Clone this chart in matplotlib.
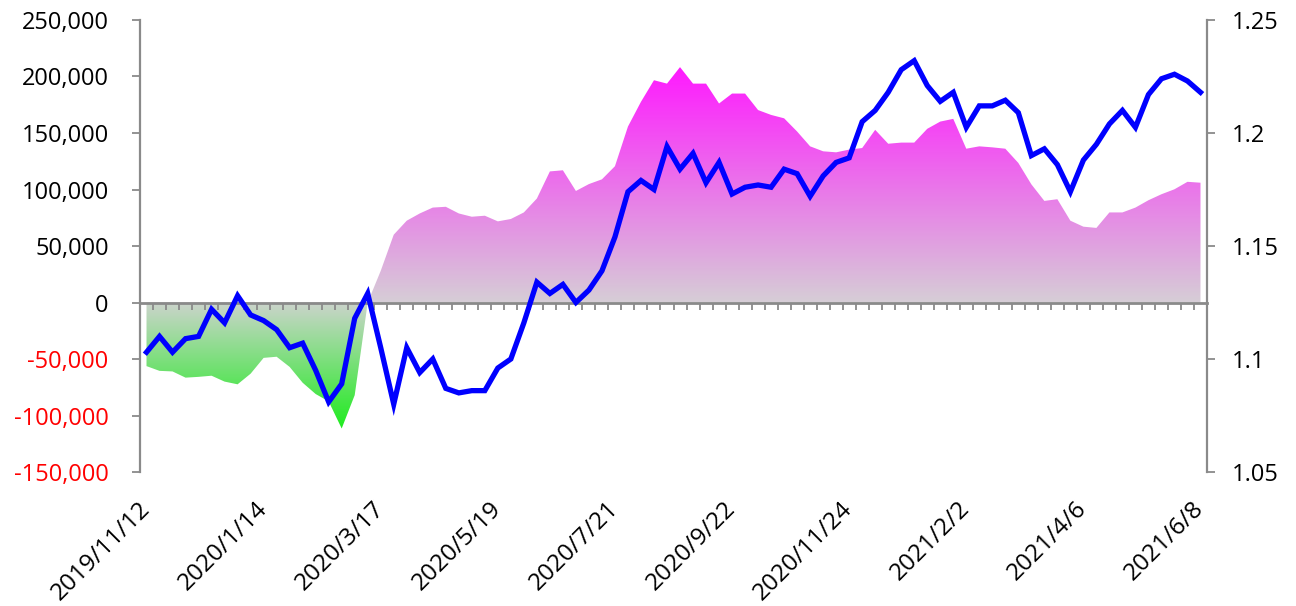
import numpy as np
import matplotlib
matplotlib.use("Agg")
import matplotlib.pyplot as plt
from matplotlib.path import Path

plt.rcParams['font.family'] = ['Open Sans', 'DejaVu Sans']

# ---- data ----
net_positions = [
    -56300, -60500, -61000, -66500, -65800, -64800, -70000, -72400, -63000, -49000,
    -48000, -57000, -71000, -81000, -87500, -111500, -82000, 0, 28000, 60000,
    72400, 78800, 84000, 84700, 78800, 75900, 76800, 71800, 73900, 79700,
    92000, 116000, 117000, 98700, 104800, 109000, 120600, 155700, 177600, 196700,
    193700, 208300, 193700, 193700, 176100, 184900, 184900, 170300, 166000, 163000,
    151300, 138200, 133800, 132900, 135300, 136700, 152800, 140500, 141500, 141500,
    153700, 160100, 162500, 136100, 138200, 137300, 136100, 123500, 104600, 89900,
    91400, 72400, 67100, 66000, 79700, 79700, 84000, 90500, 95800, 100200,
    106800, 106000,
]
eurusd = [
    1.103, 1.110, 1.103, 1.109, 1.110, 1.122, 1.116, 1.128, 1.1195, 1.117,
    1.113, 1.105, 1.107, 1.095, 1.081, 1.089, 1.118, 1.129, 1.105, 1.080,
    1.105, 1.094, 1.100, 1.087, 1.085, 1.086, 1.086, 1.096, 1.100, 1.116,
    1.134, 1.129, 1.133, 1.125, 1.1305, 1.139, 1.154, 1.174, 1.179, 1.175,
    1.194, 1.184, 1.191, 1.178, 1.187, 1.173, 1.176, 1.177, 1.176, 1.184,
    1.182, 1.172, 1.181, 1.187, 1.189, 1.205, 1.210, 1.218, 1.228, 1.232,
    1.221, 1.214, 1.218, 1.2025, 1.212, 1.212, 1.2145, 1.209, 1.190, 1.193,
    1.186, 1.174, 1.188, 1.195, 1.204, 1.210, 1.2025, 1.217, 1.224, 1.226,
    1.223, 1.218,
]
date_labels = ['2019/11/12', '2020/1/14', '2020/3/17', '2020/5/19', '2020/7/21',
               '2020/9/22', '2020/11/24', '2021/2/2', '2021/4/6', '2021/6/8']
label_step = 9
left_ticks = [-150000, -100000, -50000, 0, 50000, 100000, 150000, 200000, 250000]
right_ticks = [1.05, 1.1, 1.15, 1.2, 1.25]
right_labels = ['1.05', '1.1', '1.15', '1.2', '1.25']

# ---- figure ----
W, H = 1296, 606
fig = plt.figure(figsize=(W / 100, H / 100), dpi=100)
L, R, T, B = 140, 1207, 20, 472
ax = fig.add_axes([L / W, 1 - B / H, (R - L) / W, (B - T) / H])

n = len(net_positions)
x = np.arange(n)
y = np.array(net_positions, dtype=float)
ylo, yhi = left_ticks[0], left_ticks[-1]
xlo, xhi = -0.5, n - 0.5

# gradient image (magenta above zero, green below)
vals = np.linspace(ylo, yhi, 800)
img = np.zeros((len(vals), 1, 3))
gray_m = np.array([214, 206, 214]) / 255
mag = np.array([255, 24, 255]) / 255
gray_g = np.array([204, 212, 204]) / 255
grn = np.array([30, 236, 30]) / 255
for k, v in enumerate(vals):
    if v >= 0:
        t = min(v / 210000, 1.0)
        img[k, 0] = gray_m * (1 - t) + mag * t
    else:
        t = min(-v / 112000, 1.0)
        img[k, 0] = gray_g * (1 - t) + grn * t
im = ax.imshow(img, extent=[xlo, xhi, ylo, yhi], origin='lower', aspect='auto',
               interpolation='bilinear', zorder=1)
verts = [(x[0], 0.0)] + list(zip(x, y)) + [(x[-1], 0.0), (x[0], 0.0)]
clip = Path(verts, closed=True)
im.set_clip_path(clip, transform=ax.transData)

ax.set_xlim(xlo, xhi)
ax.set_ylim(ylo, yhi)

axis_col = '#8a8a8a'
for s in ['top', 'right']:
    ax.spines[s].set_visible(False)
ax.spines['left'].set_color(axis_col)
ax.spines['left'].set_linewidth(1.6)
ax.spines['bottom'].set_position(('data', 0))
ax.spines['bottom'].set_color(axis_col)
ax.spines['bottom'].set_linewidth(2.0)
ax.spines['bottom'].set_zorder(3)

ax.set_xticks(np.arange(n + 1) - 0.5)
ax.tick_params(axis='x', direction='out', length=5, width=1.3, colors=axis_col,
               labelbottom=False)
ax.set_yticks(left_ticks)
ax.set_yticklabels([f'{v:,}' for v in left_ticks])
ax.tick_params(axis='y', direction='out', length=5.5, width=1.3, color=axis_col,
               pad=17, labelsize=17)
for lab, v in zip(ax.get_yticklabels(), left_ticks):
    lab.set_color('#ff0000' if v < 0 else 'black')

# date labels on a secondary x-axis at the bottom
sec = ax.secondary_xaxis(0.0)
sec.spines['bottom'].set_visible(False)
lab_pos = list(range(0, n, label_step))
sec.set_xticks(lab_pos)
sec.set_xticklabels(date_labels)
sec.tick_params(axis='x', length=0, pad=24, labelsize=17.5)
for lab in sec.get_xticklabels():
    lab.set_rotation(45)
    lab.set_ha('right')
    lab.set_va('center')
    lab.set_rotation_mode('anchor')

# right axis line
ax2 = ax.twinx()
ax2.plot(x, eurusd, color='#0000ff', lw=3.8, solid_joinstyle='miter', zorder=5)
ax2.set_ylim(right_ticks[0], right_ticks[-1])
ax2.set_xlim(xlo, xhi)
for s in ['top', 'left', 'bottom']:
    ax2.spines[s].set_visible(False)
ax2.spines['right'].set_color(axis_col)
ax2.spines['right'].set_linewidth(1.6)
ax2.set_yticks(right_ticks)
ax2.set_yticklabels(right_labels)
ax2.tick_params(axis='y', direction='out', length=5.5, width=1.3, color=axis_col,
                pad=12.5, labelsize=17)

fig.savefig('out.png', dpi=100)
